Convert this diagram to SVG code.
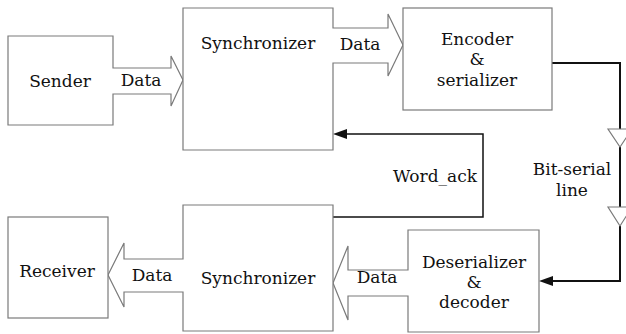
<svg xmlns="http://www.w3.org/2000/svg" width="626" height="334" viewBox="0 0 626 334">
<style>
.box{fill:#fff;stroke:#7a7a7a;stroke-width:1.2}
.t{font-family:'DejaVu Serif','Liberation Serif',serif;font-size:17px;fill:#111;text-anchor:middle}
.w{fill:none;stroke:#111;stroke-width:1.5}
.b{fill:none;stroke:#111;stroke-width:2}
.tri{fill:#fff;stroke:#7a7a7a;stroke-width:1.2}
</style>
<rect width="626" height="334" fill="#fff"/>
<g id="connectors">
<path class="w" d="M333,217 H483 V134 H345"/>
<polygon points="333,134 347,129 347,139" fill="#111"/>
<path class="b" d="M552,63 H620 V129 M620,147 V207 M620,226 V281 H551"/>
<polygon points="539,281 553,276 553,286" fill="#111"/>
<polygon class="tri" points="608,129 632,129 620,147"/>
<polygon class="tri" points="608,207 632,207 620,226"/>
<text class="t" x="477" y="182" style="text-anchor:end">Word_ack</text>
<text class="t" x="572" y="175">Bit-serial</text>
<text class="t" x="572" y="196">line</text>
</g>
<g id="sender">
<path class="box" d="M8,36 H113 V68 H171 V56 L183,80 L171,106 V94 H113 V125 H8 Z"/>
<text class="t" x="60" y="87">Sender</text>
<text class="t" x="141" y="86">Data</text>
</g>
<g id="sync-top">
<path class="box" d="M183,8 H333 V28 H388 V14 L403,45 L388,76 V63 H333 V150 H183 Z"/>
<text class="t" x="258" y="49">Synchronizer</text>
<text class="t" x="360" y="50">Data</text>
</g>
<g id="encoder">
<rect class="box" x="403" y="8" width="149" height="102"/>
<text class="t" x="477" y="45">Encoder</text>
<text class="t" x="477" y="65">&amp;</text>
<text class="t" x="477" y="86">serializer</text>
</g>
<g id="deserializer">
<path class="box" d="M539,230 V332 H408 V296 H348 V320 L333,283 L348,246 V270 H408 V230 Z"/>
<text class="t" x="474" y="268">Deserializer</text>
<text class="t" x="474" y="288">&amp;</text>
<text class="t" x="474" y="308">decoder</text>
<text class="t" x="377" y="283">Data</text>
</g>
<g id="sync-bottom">
<path class="box" d="M183,205 H333 V331 H183 V292 H124 V307 L108,275 L124,243 V259 H183 Z"/>
<text class="t" x="258" y="284">Synchronizer</text>
<text class="t" x="152" y="281">Data</text>
</g>
<g id="receiver">
<rect class="box" x="8" y="217" width="100" height="101"/>
<text class="t" x="57" y="277">Receiver</text>
</g>
</svg>
